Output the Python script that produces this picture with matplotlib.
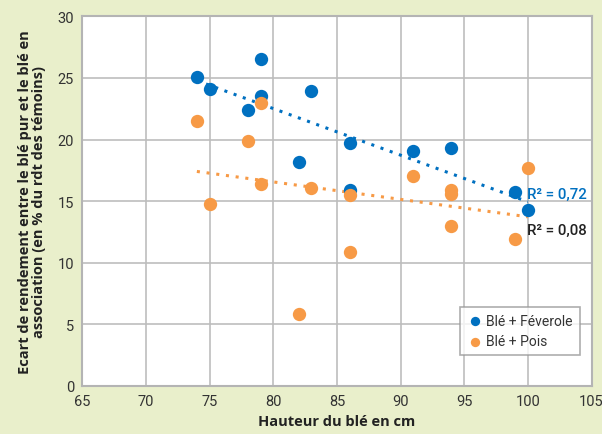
import numpy as np
import matplotlib.pyplot as plt

# ---- data ----
fev_x = [74, 75, 78, 79, 79, 82, 83, 86, 86, 91, 94, 99, 100]
fev_y = [25.1, 24.1, 22.4, 26.5, 23.5, 18.2, 23.9, 19.7, 15.9, 19.1, 19.3, 15.7, 14.3]

pois_x = [74, 75, 78, 79, 79, 82, 83, 86, 86, 91, 94, 94, 94, 99, 100]
pois_y = [21.5, 14.8, 19.9, 23.0, 16.4, 5.8, 16.1, 15.5, 10.9, 17.0, 15.9, 15.6, 13.0, 11.9, 17.7]

labels = ["Blé + Féverole", "Blé + Pois"]
r2_text = ["R² = 0,72", "R² = 0,08"]

blue = "#0070c0"
orange = "#f79a46"
bg = "#e9efcb"

plt.rcParams["font.family"] = ["Roboto", "DejaVu Sans"]

fig = plt.figure(figsize=(6.02, 4.35), dpi=100, facecolor=bg)
ax = fig.add_axes([0.1367, 0.111, 0.8459, 0.849])
ax.set_facecolor("white")

ax.scatter(fev_x, fev_y, s=92, color=blue, zorder=3, label=labels[0], linewidths=0)
ax.scatter(pois_x, pois_y, s=92, color=orange, zorder=3, label=labels[1], linewidths=0)

# linear trend lines
for xs, ys, c in [(fev_x, fev_y, blue), (pois_x, pois_y, orange)]:
    a, b = np.polyfit(xs, ys, 1)
    xx = np.array([min(xs), max(xs)])
    ax.plot(xx, a * xx + b, linestyle=(0, (1, 2.2)), color=c, lw=2.2, zorder=2)

ax.text(99.9, 15.0, r2_text[0], color=blue, fontsize=10.8, fontweight="medium",
        va="bottom", ha="left")
ax.text(99.9, 12.1, r2_text[1], color="#222222", fontsize=10.8, fontweight="medium",
        va="bottom", ha="left")

ax.set_xlim(65, 105)
ax.set_ylim(0, 30)
ax.set_xticks(np.arange(65, 106, 5))
ax.set_yticks(np.arange(0, 31, 5))
ax.grid(True, color="#bdbdbd", lw=1.2)
ax.set_axisbelow(True)
for sp in ax.spines.values():
    sp.set_color("#b4b4b4")
    sp.set_linewidth(1.5)
ax.tick_params(length=0, labelsize=10.5, labelcolor="#333333", pad=6)

ax.set_xlabel("Hauteur du blé en cm", fontsize=10.5, fontweight="bold",
              family=["Open Sans", "DejaVu Sans"], color="#222222", labelpad=4)
ax.set_ylabel("Ecart de rendement entre le blé pur et le blé en\nassociation (en % du rdt des témoins)",
              fontsize=10.5, fontweight="bold", family=["Open Sans", "DejaVu Sans"],
              color="#222222", labelpad=8, linespacing=1.0)

leg = ax.legend(loc="upper left", bbox_to_anchor=(0.728, 0.233), fontsize=10,
                frameon=True, fancybox=False, handletextpad=0.2, borderpad=0.5,
                markerscale=0.7, labelcolor="#333333", handlelength=1.2)
leg.get_frame().set_edgecolor("#999999")
leg.get_frame().set_linewidth(1.2)

fig.savefig("out.png", dpi=100, facecolor=bg)
